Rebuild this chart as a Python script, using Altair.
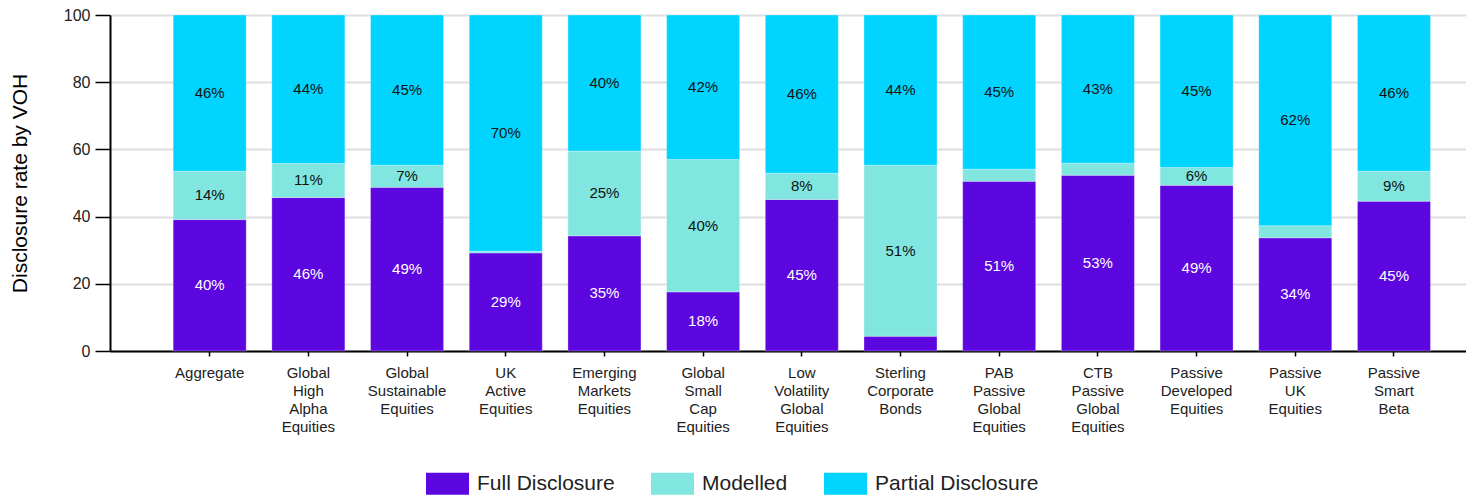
import altair as alt
import pandas as pd

categories = [
    "Aggregate", "Global High Alpha Equities", "Global Sustainable Equities",
    "UK Active Equities", "Emerging Markets Equities", "Global Small Cap Equities",
    "Low Volatility Global Equities", "Sterling Corporate Bonds",
    "PAB Passive Global Equities", "CTB Passive Global Equities",
    "Passive Developed Equities", "Passive UK Equities", "Passive Smart Beta",
]
full = [39.1, 45.7, 48.7, 29.2, 34.3, 17.6, 45.1, 4.4, 50.5, 52.3, 49.3, 33.7, 44.6]
modelled = [14.4, 10.1, 6.6, 0.5, 25.2, 39.4, 7.8, 50.9, 3.6, 3.6, 5.3, 3.6, 8.9]
partial = [46.5, 44.2, 44.7, 70.3, 40.5, 43.0, 47.1, 44.7, 45.9, 44.1, 45.4, 62.7, 46.5]
full_labels = ["40%", "46%", "49%", "29%", "35%", "18%", "45%", "", "51%", "53%", "49%", "34%", "45%"]
modelled_labels = ["14%", "11%", "7%", "", "25%", "40%", "8%", "51%", "", "", "6%", "", "9%"]
partial_labels = ["46%", "44%", "45%", "70%", "40%", "42%", "46%", "44%", "45%", "43%", "45%", "62%", "46%"]
series = ["Full Disclosure", "Modelled", "Partial Disclosure"]
colors = ["#5C06E0", "#80E6DF", "#00D4FF"]

rows = []
for s_i, (name, vals, labs) in enumerate(zip(series, [full, modelled, partial],
                                              [full_labels, modelled_labels, partial_labels])):
    for c, v, l in zip(categories, vals, labs):
        rows.append({"category": c, "series": name, "value": v, "label": l, "order": s_i})
df = pd.DataFrame(rows)

FONT = "Liberation Sans"

x_enc = alt.X(
    "category:N", sort=categories, title=None,
    scale=alt.Scale(paddingInner=0.26, paddingOuter=0.5, align=0.64),
    axis=alt.Axis(
        labelAngle=0, labelExpr="split(datum.label, ' ')", labelFontSize=15,
        labelLineHeight=18, labelPadding=9, labelColor="#222222", labelFont=FONT,
        tickSize=5, tickColor="black", tickWidth=1.5, domainColor="black",
        domainWidth=2, grid=False, labelLimit=200,
    ),
)

bars = alt.Chart(df).mark_bar(stroke="white", strokeWidth=0.6, strokeOpacity=0.5).encode(
    x=x_enc,
    y=alt.Y(
        "value:Q", stack="zero", title="Disclosure rate by VOH",
        scale=alt.Scale(domain=[0, 100], nice=False),
        axis=alt.Axis(
            values=[0, 20, 40, 60, 80, 100], labelFontSize=16, labelFont=FONT,
            labelColor="#222222", labelPadding=5, tickSize=15, tickColor="black",
            tickWidth=1.5, domainColor="black", domainWidth=2,
            gridColor="#dedede", gridWidth=2, titleFontSize=21, titleFont=FONT,
            titleFontWeight="normal", titleColor="black", titleX=-90, titleY=168,
            titleAngle=270, titleBaseline="middle", titleAlign="center",
        ),
    ),
    color=alt.Color(
        "series:N", sort=series,
        scale=alt.Scale(domain=series, range=colors),
        legend=alt.Legend(
            title=None, orient="none", legendX=316, legendY=447,
            direction="horizontal",
            symbolType="M-1,-0.512L1,-0.512L1,0.512L-1,0.512Z",
            symbolSize=1849, symbolStrokeWidth=0, symbolOpacity=1,
            labelFontSize=21, labelFont=FONT, labelColor="#222222",
            labelOffset=8, columnPadding=36, labelLimit=300,
        ),
    ),
    order=alt.Order("order:Q"),
)

text = alt.Chart(df).transform_stack(
    stack="value", as_=["y0", "y1"], groupby=["category"],
    sort=[alt.SortField("order", order="ascending")],
).transform_calculate(
    mid="(datum.y0 + datum.y1) / 2"
).mark_text(fontSize=15, font=FONT, baseline="middle").encode(
    x=x_enc,
    y=alt.Y("mid:Q"),
    text="label:N",
    color=alt.condition("datum.series == 'Full Disclosure'",
                        alt.value("white"), alt.value("#111111")),
)

chart = alt.layer(bars, text).properties(
    width=1356, height=336,
    autosize=alt.AutoSizeParams(type="none"),
    padding={"left": 102, "top": 7, "right": 0, "bottom": 144},
).configure_view(stroke=None)

chart.save("out.html", embed_options={"renderer": "svg", "actions": False})
